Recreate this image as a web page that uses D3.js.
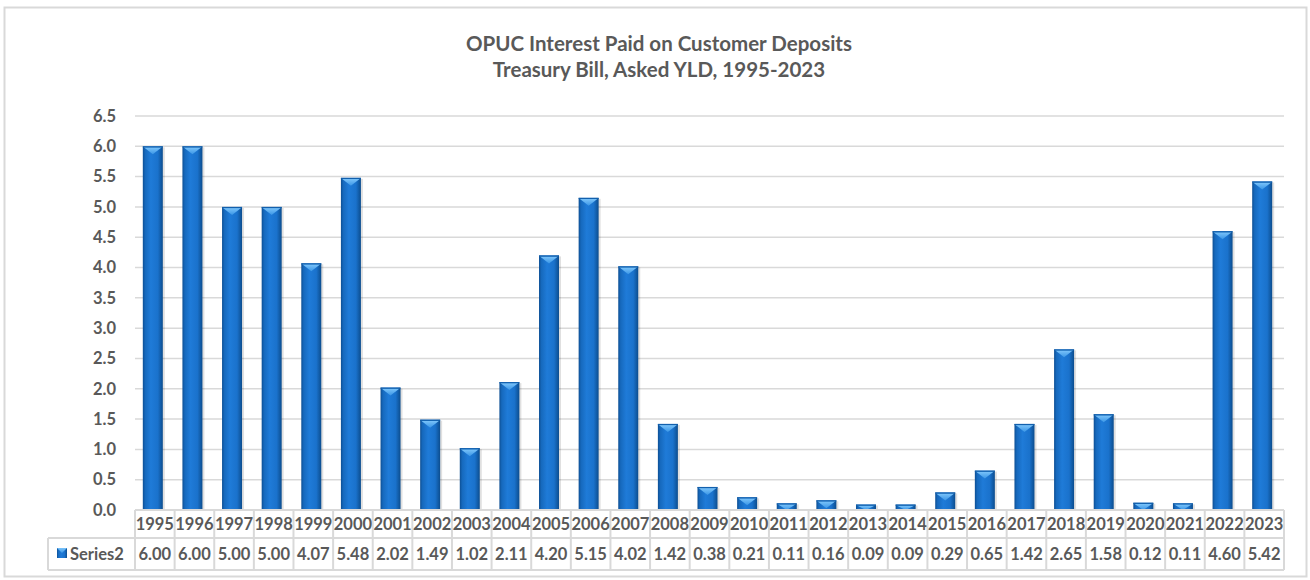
<!DOCTYPE html>
<html><head><meta charset="utf-8">
<script src="https://cdn.jsdelivr.net/npm/d3@7"></script>
<style>
html,body{margin:0;padding:0;background:#fff;}
svg{display:block;font-family:Lato,"Open Sans",sans-serif;}
</style></head>
<body><svg id="chart" width="1310" height="580"></svg>
<script>
const years = ["1995","1996","1997","1998","1999","2000","2001","2002","2003","2004","2005","2006","2007","2008","2009","2010","2011","2012","2013","2014","2015","2016","2017","2018","2019","2020","2021","2022","2023"];
const values = [6.00,6.00,5.00,5.00,4.07,5.48,2.02,1.49,1.02,2.11,4.20,5.15,4.02,1.42,0.38,0.21,0.11,0.16,0.09,0.09,0.29,0.65,1.42,2.65,1.58,0.12,0.11,4.60,5.42];
const yTicks = [0,0.5,1,1.5,2,2.5,3,3.5,4,4.5,5,5.5,6,6.5];
const seriesName = "Series2";
const titleLines = ["OPUC Interest Paid on Customer Deposits","Treasury Bill, Asked YLD, 1995-2023"];

const svg = d3.select("#chart");
const grey = "#595959", lineCol = "#d9d9d9";
const fs = 16.5;

const defs = svg.append("defs");
const g1 = defs.append("linearGradient").attr("id","barGrad").attr("x1","0").attr("x2","1").attr("y1","0").attr("y2","0");
[[0,"#0d4f94"],[0.12,"#1669bd"],[0.4,"#1f7bd8"],[0.75,"#1a72cc"],[1,"#0c4d8e"]].forEach(s=>g1.append("stop").attr("offset",s[0]).attr("stop-color",s[1]));
const g2 = defs.append("linearGradient").attr("id","capGrad").attr("x1","0").attr("x2","0").attr("y1","0").attr("y2","1");
[[0,"#7cc4fa"],[1,"#3a96e6"]].forEach(s=>g2.append("stop").attr("offset",s[0]).attr("stop-color",s[1]));

// outer border
svg.append("rect").attr("x",4.5).attr("y",7.5).attr("width",1302).attr("height",569)
  .attr("fill","#fff").attr("stroke",lineCol).attr("stroke-width",2);

// title
svg.append("text").attr("text-anchor","middle")
  .attr("fill",grey).attr("font-weight","bold").attr("font-size",20.5)
  .selectAll("tspan").data(titleLines).join("tspan")
  .attr("x",659).attr("y",(d,i)=>51+i*26).text(d=>d);

const x = d3.scaleBand().domain(years).range([135,1284]).paddingInner(0).paddingOuter(0);
const y = d3.scaleLinear().domain([0,6.5]).range([510,116]);

// gridlines
svg.append("g").selectAll("line").data(yTicks.filter(t=>t>0)).join("line")
  .attr("x1",135).attr("x2",1284).attr("y1",d=>y(d)).attr("y2",d=>y(d))
  .attr("stroke",lineCol).attr("stroke-width",1.5);

// y axis labels
const yAxis = d3.axisLeft(y).tickValues(yTicks).tickFormat(d3.format(".1f")).tickSize(0).tickPadding(19);
const ya = svg.append("g").attr("transform","translate(135,0)").call(yAxis);
ya.select(".domain").remove();
ya.selectAll("text").attr("fill",grey).attr("font-weight","bold").attr("font-size",fs)
  .attr("font-family","Lato,'Open Sans',sans-serif");

// bars
const bw = 20;
const bars = svg.append("g").selectAll("g").data(values).join("g")
  .attr("transform",(d,i)=>`translate(${x(years[i]) + (x.bandwidth()-bw)/2 - 2},0)`);
bars.append("rect").attr("x",2).attr("y",d=>y(d)+1).attr("width",bw).attr("height",d=>y(0)-y(d))
  .attr("fill","#000").attr("opacity",0.12);
bars.append("rect").attr("x",0).attr("y",d=>y(d)).attr("width",bw).attr("height",d=>y(0)-y(d))
  .attr("fill","url(#barGrad)");
bars.append("path").attr("d",d=>{
  const top=y(d), h=Math.min(8,(y(0)-y(d)));
  return `M1,${top+1} L${bw-1},${top+1} L${bw/2},${top+h} Z`;
}).attr("fill","url(#capGrad)");
bars.append("rect").attr("x",0).attr("y",d=>y(d)).attr("width",bw).attr("height",d=>Math.min(1.2,y(0)-y(d)))
  .attr("fill","#1260ad");

// data table
const tTop = 510, r1 = 538, tBot = 570, legX = 48;
const tbl = svg.append("g");
tbl.append("line").attr("x1",135).attr("x2",1284).attr("y1",tTop).attr("y2",tTop).attr("stroke",lineCol).attr("stroke-width",2);
tbl.append("line").attr("x1",legX).attr("x2",1284).attr("y1",r1).attr("y2",r1).attr("stroke",lineCol).attr("stroke-width",2);
tbl.append("line").attr("x1",legX).attr("x2",1284).attr("y1",tBot).attr("y2",tBot).attr("stroke",lineCol).attr("stroke-width",2);
tbl.append("line").attr("x1",legX).attr("x2",legX).attr("y1",r1).attr("y2",tBot).attr("stroke",lineCol).attr("stroke-width",2);
const vx = years.map(d=>x(d)).concat([x(years[years.length-1])+x.bandwidth()]);
tbl.selectAll("line.v").data(vx).join("line").attr("class","v")
  .attr("x1",d=>d).attr("x2",d=>d).attr("y1",tTop).attr("y2",tBot).attr("stroke",lineCol).attr("stroke-width",2);
tbl.selectAll("text.yr").data(years).join("text").attr("class","yr")
  .attr("x",d=>x(d)+x.bandwidth()/2).attr("y",530).attr("text-anchor","middle")
  .attr("fill",grey).attr("font-weight","bold").attr("font-size",fs).text(d=>d);
tbl.selectAll("text.val").data(values).join("text").attr("class","val")
  .attr("x",(d,i)=>x(years[i])+x.bandwidth()/2).attr("y",560).attr("text-anchor","middle")
  .attr("fill",grey).attr("font-weight","bold").attr("font-size",fs).text(d=>d3.format(".2f")(d));
tbl.append("rect").attr("x",57).attr("y",548).attr("width",10).attr("height",10).attr("fill","url(#barGrad)");
tbl.append("path").attr("d","M57,548 L67,548 L62,553 Z").attr("fill","url(#capGrad)");
tbl.append("text").attr("x",70).attr("y",560).attr("fill",grey).attr("font-weight","bold").attr("font-size",fs).text(seriesName);
</script></body></html>
